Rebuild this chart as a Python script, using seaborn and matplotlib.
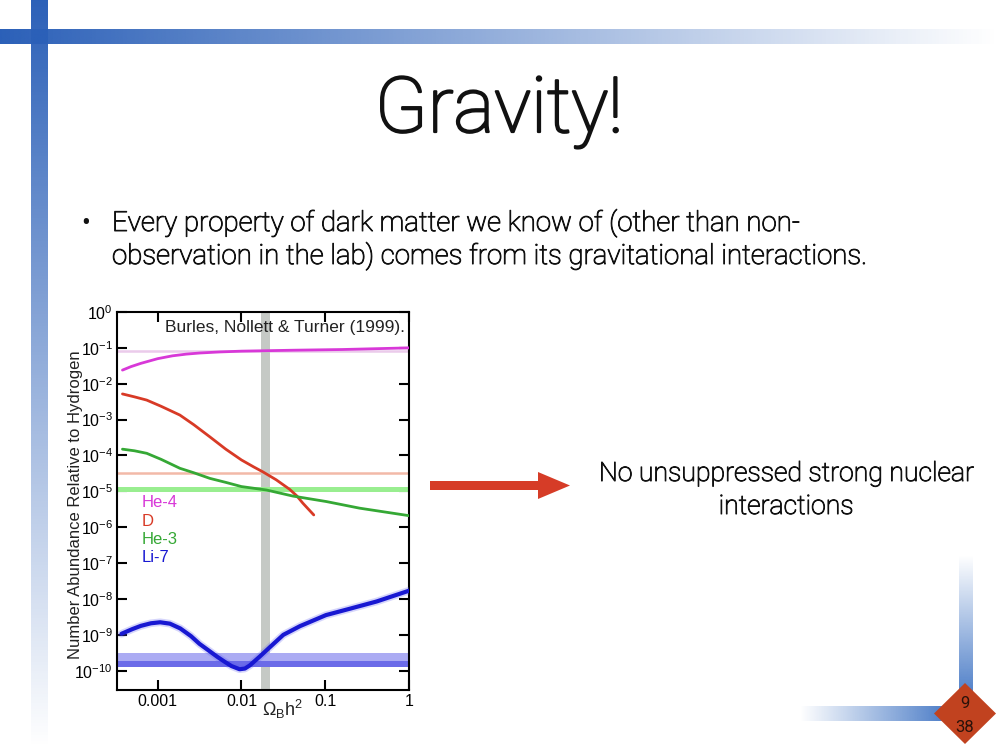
import matplotlib
matplotlib.use('Agg')
import matplotlib.pyplot as plt
import matplotlib.patheffects as pe
import numpy as np
import seaborn as sns
from matplotlib.patches import FancyArrow, Polygon
from matplotlib.ticker import FuncFormatter, LogLocator, NullLocator

# Abundances vs baryon density Omega_B h^2 (Burles, Nollett & Turner 1999)
he4_omega = [3.8e-4, 4.8e-4, 6.3e-4, 1e-3, 1.5e-3, 2.2e-3, 3.2e-3, 5.5e-3, 1e-2, 4.1e-2, 0.16, 1.0]
he4_abund = [0.024, 0.030, 0.037, 0.050, 0.060, 0.067, 0.072, 0.077, 0.081, 0.086, 0.090, 0.100]

d_omega = [3.8e-4, 5.3e-4, 7.4e-4, 1.1e-3, 1.84e-3, 2.7e-3, 4.2e-3, 6.5e-3, 1e-2, 1.4e-2,
           1.8e-2, 2.6e-2, 3.76e-2, 4.6e-2, 5.4e-2, 7.3e-2]
d_abund = [5.2e-3, 4.3e-3, 3.5e-3, 2.35e-3, 1.34e-3, 7.2e-4, 3.3e-4, 1.5e-4, 7.5e-5, 4.8e-5,
           3.5e-5, 2.1e-5, 1.14e-5, 7.4e-6, 4.7e-6, 2.2e-6]

he3_omega = [3.8e-4, 5.3e-4, 7.4e-4, 1.1e-3, 1.84e-3, 2.7e-3, 4.2e-3, 6.5e-3, 1e-2, 1.99e-2,
             4.1e-2, 0.103, 0.257, 1.0]
he3_abund = [1.5e-4, 1.35e-4, 1.15e-4, 7.8e-5, 4.4e-5, 3.3e-5, 2.3e-5, 1.78e-5, 1.36e-5, 1.09e-5,
             7.4e-6, 5.2e-6, 3.4e-6, 2.1e-6]

li7_omega = [3.7e-4, 5.0e-4, 6.3e-4, 8.3e-4, 1.07e-3, 1.4e-3, 1.86e-3, 2.5e-3, 3.16e-3, 4.17e-3,
             5.2e-3, 6.3e-3, 7.6e-3, 9.5e-3, 1.1e-2, 1.26e-2, 1.66e-2, 2.2e-2, 3.16e-2, 5.0e-2,
             6.3e-2, 0.102, 0.2, 0.41, 1.0]
li7_abund = [1.07e-9, 1.45e-9, 1.78e-9, 2.1e-9, 2.24e-9, 2.05e-9, 1.51e-9, 9.2e-10, 5.6e-10, 3.5e-10,
             2.4e-10, 1.78e-10, 1.35e-10, 1.1e-10, 1.15e-10, 1.41e-10, 2.5e-10, 4.6e-10, 1.0e-9, 1.75e-9,
             2.2e-9, 3.55e-9, 5.4e-9, 8.5e-9, 1.7e-8]

# observed values / bands
he4_obs = 0.082
d_obs = 3.3e-5
he3_band = (9.6e-6, 1.36e-5)
li7_band = (1.29e-10, 3.16e-10)
li7_core = (1.29e-10, 1.86e-10)
omega_band = (0.0171, 0.0219)

species = ['He-4', 'D', 'He-3', 'Li-7']
colours = ['#D838D8', '#D83A26', '#35A835', '#1818D2']

title = 'Gravity!'
bullet_lines = ['Every property of dark matter we know of (other than non-',
                'observation in the lab) comes from its gravitational interactions.']
side_lines = ['No unsuppressed strong nuclear', 'interactions']
citation = 'Burles, Nollett & Turner (1999).'
slide_no, slide_total = '9', '38'

sns.set_theme(style='ticks')
plt.rcParams['font.family'] = ['Liberation Sans', 'DejaVu Sans']
plt.rcParams['mathtext.fontset'] = 'custom'
plt.rcParams['mathtext.rm'] = 'Liberation Sans'
plt.rcParams['mathtext.it'] = 'Liberation Sans:italic'
plt.rcParams['mathtext.bf'] = 'Liberation Sans:bold'
plt.rcParams['axes.unicode_minus'] = False
slide_font = ['Roboto', 'DejaVu Sans']
ink = '#111111'


def thicker(w):
    # Roboto Light is a touch thinner than the slide's Helvetica Neue, fatten it a bit
    return [pe.withStroke(linewidth=w, foreground=ink)]


fig = plt.figure(figsize=(10, 7.5), dpi=100)

# background layer in pixel coordinates for the slide decoration
bg = fig.add_axes([0, 0, 1, 1], zorder=0)


def gradient_bar(ax, x0, x1, y0, y1, rgb, a_start, a_end, horizontal=True):
    a = np.linspace(a_start, a_end, 256)
    img = np.ones((1, 256, 4)) if horizontal else np.ones((256, 1, 4))
    img[..., :3] = matplotlib.colors.to_rgb(rgb)
    img[..., 3] = a.reshape(img.shape[:2])
    ax.imshow(img, extent=(x0, x1, y1, y0), aspect='auto', interpolation='bilinear')


gradient_bar(bg, 0, 1000, 29, 44, '#2B60B8', 1.0, 0.0)
gradient_bar(bg, 31, 48, 0, 748, '#2B60B8', 1.0, 0.0, horizontal=False)
gradient_bar(bg, 959, 973, 555, 712, '#3A70C2', 0.0, 1.0, horizontal=False)
gradient_bar(bg, 800, 962, 706, 721, '#3A70C2', 0.0, 1.0)
bg.add_patch(Polygon([(965, 683), (996, 713.5), (965, 744), (934, 713.5)], closed=True,
                     facecolor='#C1421F', edgecolor='none'))
bg.text(965, 703, slide_no, ha='center', va='center', fontsize=12, color='#2A120A',
        family=slide_font)
bg.text(965, 728, slide_total, ha='center', va='center', fontsize=12, color='#2A120A',
        family=slide_font)
bg.add_patch(FancyArrow(430, 485.5, 140, 0, width=9, head_width=27, head_length=32,
                        length_includes_head=True, color='#D63C27', lw=0))
bg.set_xlim(0, 1000)
bg.set_ylim(750, 0)
bg.axis('off')

fig.text(0.499, 1 - 132 / 750, title, ha='center', va='baseline', fontsize=55.5,
         family=slide_font, weight='light', color=ink, path_effects=thicker(1.6))
fig.text(0.081, 1 - 231 / 750, '•', ha='left', va='baseline', fontsize=19, family=slide_font,
         color=ink)
for i, line in enumerate(bullet_lines):
    fig.text(0.112, 1 - (231 + 33 * i) / 750, line, ha='left', va='baseline', fontsize=19.9,
             family=slide_font, weight='light', color=ink, path_effects=thicker(0.7))
for i, line in enumerate(side_lines):
    fig.text(0.786, 1 - (481 + 33 * i) / 750, line, ha='center', va='baseline', fontsize=19.2,
             family=slide_font, weight='light', color=ink, path_effects=thicker(0.7))

# the chart itself
ax = fig.add_axes([0.117, 0.08, 0.292, 0.504], zorder=1)
ax.set_xscale('log')
ax.set_yscale('log')
ax.axhline(he4_obs, color='#EBCBEB', lw=1.8, zorder=1)
ax.axhline(d_obs, color='#F2B9A8', lw=1.8, zorder=1)
ax.axvspan(*omega_band, color='#C5C9C5', lw=0, zorder=2)
ax.axhspan(*he3_band, color='#99EE90', lw=0, zorder=2)
ax.axhspan(*li7_band, color='#ABABF3', lw=0, zorder=2)
ax.axhspan(*li7_core, color='#6B6BE8', lw=0, zorder=2)

sns.lineplot(x=he4_omega, y=he4_abund, color=colours[0], lw=2, ax=ax, zorder=3)
sns.lineplot(x=d_omega, y=d_abund, color=colours[1], lw=2, ax=ax, zorder=3)
sns.lineplot(x=he3_omega, y=he3_abund, color=colours[2], lw=2, ax=ax, zorder=3)
sns.lineplot(x=li7_omega, y=li7_abund, color='#5A5AF0', lw=5.5, alpha=0.25, ax=ax, zorder=3)
sns.lineplot(x=li7_omega, y=li7_abund, color=colours[3], lw=3, ax=ax, zorder=4)

ax.set_xlim(3.27e-4, 1)
ax.set_ylim(2.9e-11, 1)
ax.xaxis.set_major_locator(LogLocator(base=10, numticks=10))
ax.yaxis.set_major_locator(LogLocator(base=10, numticks=20))
ax.xaxis.set_minor_locator(NullLocator())
ax.yaxis.set_minor_locator(NullLocator())
ax.xaxis.set_major_formatter(FuncFormatter(lambda v, p: f'{v:g}'))
ax.tick_params(which='major', direction='in', length=7, width=1.5, top=True, right=True,
               labelsize=11.5, pad=3, colors='black')
for sp in ax.spines.values():
    sp.set_linewidth(1.5)
    sp.set_color('black')

for i, (lab, col) in enumerate(zip(species, colours)):
    ax.text(0.085, 0.495 - 0.0485 * i, lab, color=col, transform=ax.transAxes,
            fontsize=12, va='center', ha='left', zorder=5)
ax.text(0.986, 0.96, citation, transform=ax.transAxes, ha='right', va='center',
        fontsize=12.5, color='#222222', zorder=5)

ax.set_ylabel('Number Abundance Relative to Hydrogen', fontsize=12, color='#222222')
ax.yaxis.set_label_coords(-0.115, 0.49)
ax.set_xlabel(r'$\Omega_{\rm B}\mathrm{h}^2$', fontsize=13, color='#222222')
ax.xaxis.set_label_coords(0.568, -0.022)

fig.savefig('out.png', dpi=100, facecolor='white')
